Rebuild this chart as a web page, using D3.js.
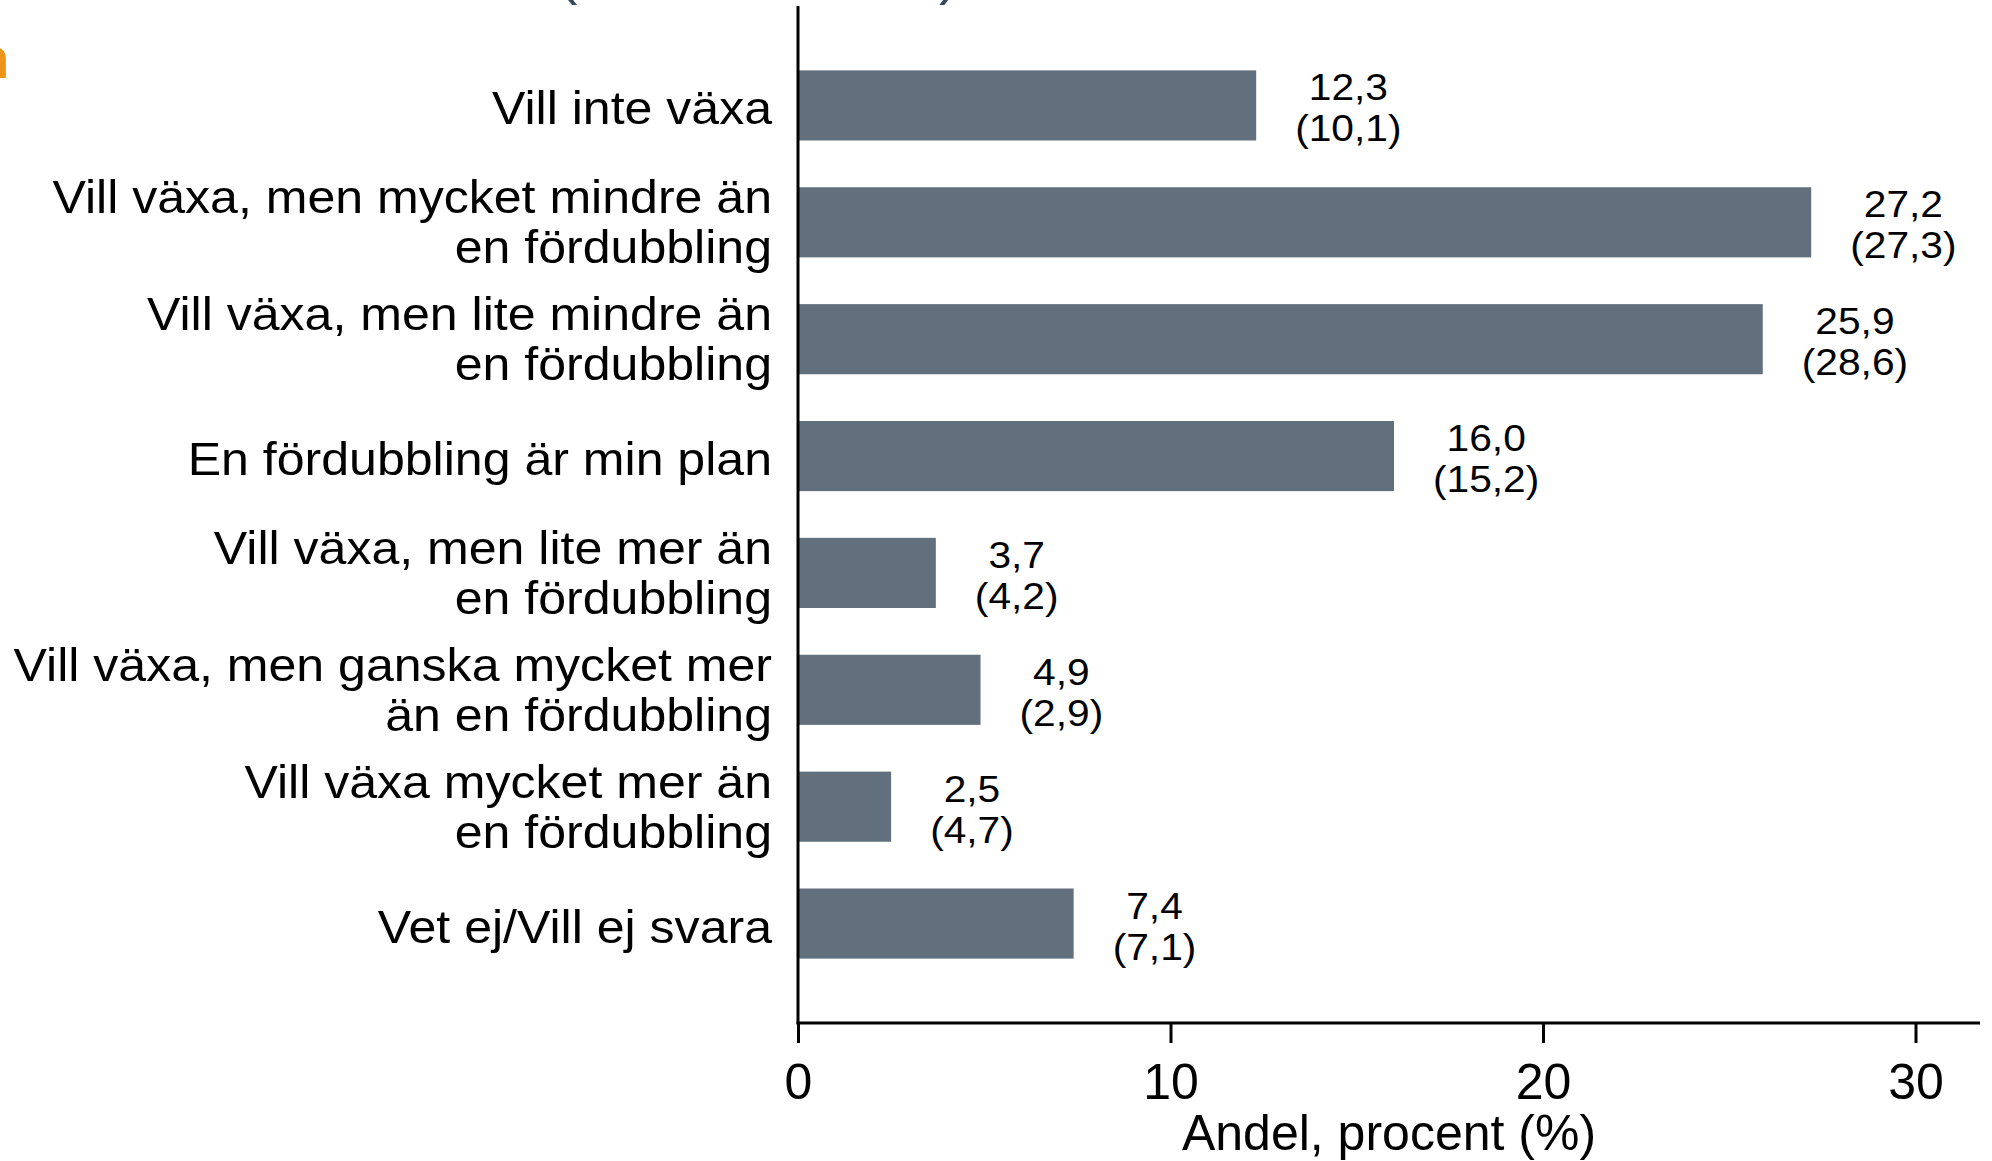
<!DOCTYPE html>
<html>
<head>
<meta charset="utf-8">
<script src="https://cdn.jsdelivr.net/npm/d3@7"></script>
<style>
  html, body { margin: 0; padding: 0; background: #ffffff; }
  svg { display: block; }
  text { font-family: "Liberation Sans", Arial, Helvetica, sans-serif; fill: #000; }
</style>
</head>
<body>
<svg id="chart" width="1992" height="1161"></svg>
<script>
// ---- data ----
const categories = [
  ["Vill inte växa"],
  ["Vill växa, men mycket mindre än", "en fördubbling"],
  ["Vill växa, men lite mindre än", "en fördubbling"],
  ["En fördubbling är min plan"],
  ["Vill växa, men lite mer än", "en fördubbling"],
  ["Vill växa, men ganska mycket mer", "än en fördubbling"],
  ["Vill växa mycket mer än", "en fördubbling"],
  ["Vet ej/Vill ej svara"]
];
const valuesCurrent = [12.3, 27.2, 25.9, 16.0, 3.7, 4.9, 2.5, 7.4];
const valuesPrevious = [10.1, 27.3, 28.6, 15.2, 4.2, 2.9, 4.7, 7.1];
const xTicks = [0, 10, 20, 30];
const xTitle = "Andel, procent (%)";

// ---- drawing ----
const svg = d3.select("#chart");
const ids = categories.map((c, i) => i);

const x = d3.scaleLinear().domain([0, 30]).range([798, 1915.5]);
const y = d3.scaleBand().domain(ids).range([47, 982]).paddingInner(0.4).paddingOuter(0.2);

const fmt = v => d3.format(".1f")(v).replace(".", ",");

// partial title remnants at top (cut off in the source)
svg.append("text").attr("x", 558).attr("y", -7)
  .style("font-size", "58px").style("fill", "#34495e").text("(");
svg.append("text").attr("x", 939).attr("y", -7)
  .style("font-size", "58px").style("fill", "#34495e").text(")");
svg.append("text").attr("x", -26).attr("y", 78)
  .style("font-size", "58px").style("font-weight", "bold").style("fill", "#ee9418").text("n");

// bars
svg.append("g").selectAll("rect").data(ids).join("rect")
  .attr("x", x(0))
  .attr("y", d => y(d))
  .attr("width", d => x(valuesCurrent[d]) - x(0))
  .attr("height", y.bandwidth())
  .attr("fill", "#62707e");

// value labels: block left edge sits a fixed gap right of the bar end
const vl = svg.append("g").selectAll("g").data(ids).join("g");
vl.each(function(d) {
  const g = d3.select(this);
  const inner = g.append("g");
  inner.append("text").attr("text-anchor", "middle").attr("y", -5)
    .style("font-size", "37px").text(fmt(valuesCurrent[d]));
  inner.append("text").attr("text-anchor", "middle").attr("y", 36)
    .style("font-size", "37px").text("(" + fmt(valuesPrevious[d]) + ")");
  const sx = 1.1;
  const bb = inner.node().getBBox();
  const w = bb.width * sx;
  g.attr("transform", `translate(${x(valuesCurrent[d]) + 39 + w / 2},${y(d) + y.bandwidth() / 2}) scale(${sx},1)`);
});

// category labels
const cl = svg.append("g").selectAll("g").data(ids).join("g")
  .attr("transform", d => `translate(772,${y(d) + y.bandwidth() / 2}) scale(1.065,1)`);
cl.each(function(d) {
  const lines = categories[d];
  const g = d3.select(this);
  const offs = lines.length === 1 ? [19] : [-9, 41];
  lines.forEach((ln, k) => {
    g.append("text").attr("text-anchor", "end").attr("y", offs[k])
      .style("font-size", "47px").text(ln);
  });
});

// y axis line
svg.append("line").attr("x1", 798).attr("x2", 798).attr("y1", 6).attr("y2", 1024)
  .attr("stroke", "#000").attr("stroke-width", 3);

// x axis
const xAxis = d3.axisBottom(x).tickValues(xTicks).tickSize(20).tickPadding(20).tickFormat(d3.format("d"));
const gx = svg.append("g").attr("transform", "translate(0,1023)").call(xAxis);
gx.select(".domain").remove();
gx.append("line").attr("x1", 796.5).attr("x2", 1980).attr("y1", 0).attr("y2", 0)
  .attr("stroke", "#000").attr("stroke-width", 3);
gx.selectAll(".tick line").attr("stroke", "#000").attr("stroke-width", 3);
gx.selectAll(".tick text").style("font-size", "50px").style("font-family", "'Liberation Sans', Arial, sans-serif").attr("fill", "#000");

svg.append("text").attr("x", 1389).attr("y", 1150).attr("text-anchor", "middle")
  .style("font-size", "50px").text(xTitle);
</script>
</body>
</html>
